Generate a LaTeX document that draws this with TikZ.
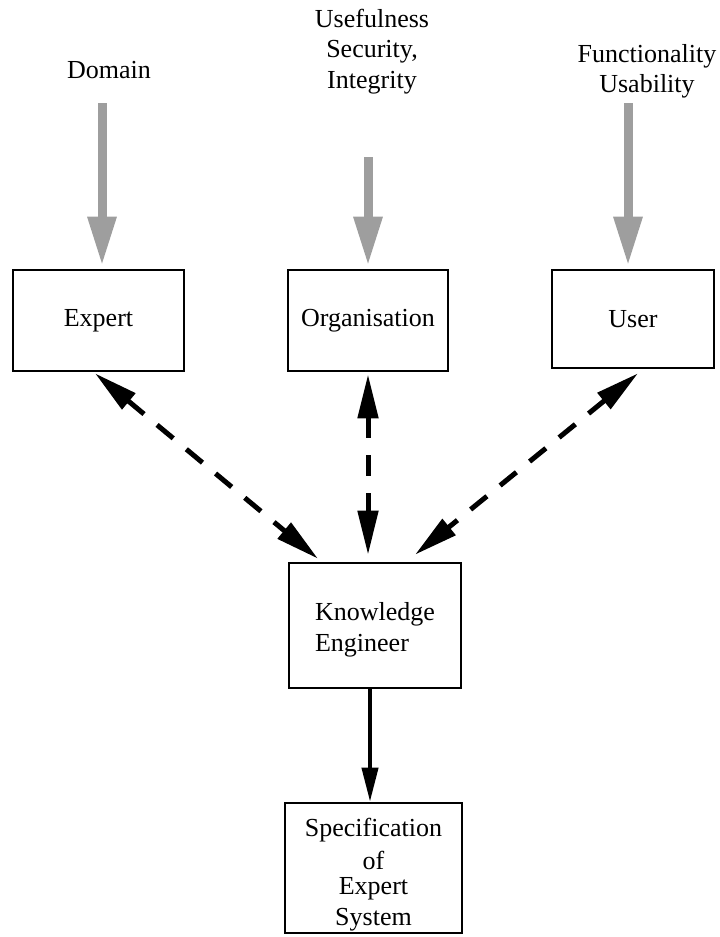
\documentclass[tikz,border=0pt]{standalone}
\usepackage{fontspec}
\setmainfont{Liberation Serif}
\usetikzlibrary{arrows.meta}

\definecolor{feedgray}{gray}{0.62}

\begin{document}
\begin{tikzpicture}[x=1pt,y=-1pt,
  txt/.style={font=\fontsize{26}{31}\selectfont, inner sep=0pt},
  lbl/.style={txt, font=\fontsize{26}{30.5}\selectfont},
  box/.style={txt, draw, line width=2.6pt},
  feed/.style={draw=feedgray, line width=9pt,
    -{Triangle[width=27pt,length=49pt,fill=feedgray]}},
  dashlink/.style={line width=5pt, dash pattern=on 21pt off 17pt,
    {Triangle[width=20pt,length=44pt]}-{Triangle[width=20pt,length=44pt]}},
  flow/.style={line width=4pt, -{Triangle[width=16pt,length=34pt]}}]

  \useasboundingbox (0,0) rectangle (720,937);

  % influences on each party
  \node[lbl, anchor=base] (dom) at (109,78) {Domain};
  \node[lbl, align=center] (orgq) at (372,51.5) {Usefulness\\Security,\\Integrity};
  \node[lbl, align=center] (usrq) at (647,71.5) {Functionality\\Usability};

  % parties
  \node[box, minimum width=171pt, minimum height=101pt] (exp) at (98.5,320.5) {Expert};
  \node[box, minimum width=160pt, minimum height=101pt] (org) at (368,320.5) {Organisation};
  \node[box, minimum width=162pt, minimum height=98pt] (usr) at (633,319) {User};

  \node[box, minimum width=172pt, minimum height=125pt, align=left] (ke) at (375,625.5)
    {\rule{0pt}{27pt}Knowledge\\Engineer};
  \node[box, minimum width=177pt, minimum height=130pt, align=center] (spec) at (373.5,868)
    {\rule{0pt}{31.8pt}Specification\\[2pt]of\\[-6pt]Expert\\System};

  % grey input arrows
  \coordinate (domtail) at (102,103);
  \coordinate (orgtail) at (368,157);
  \coordinate (usrtail) at (628,103);
  \draw[feed, shorten >=3pt] (domtail) -- (domtail |- exp.north);
  \draw[feed, shorten >=3pt] (orgtail) -- (orgtail |- org.north);
  \draw[feed, shorten >=3pt] (usrtail) -- (usrtail |- usr.north);

  % two-way communication with the knowledge engineer
  \draw[dashlink] ([xshift=-3.5pt,yshift=-1pt]exp.south) -- ([xshift=-57pt,yshift=3pt]ke.north);
  \draw[dashlink] ([yshift=-2pt]org.south) -- ([xshift=-7pt,yshift=7pt]ke.north);
  \draw[dashlink] ([xshift=5pt,yshift=-4pt]usr.south) -- ([xshift=40pt,yshift=7pt]ke.north);

  % result
  \draw[flow] ([xshift=-5pt]ke.south) -- ([xshift=-3.5pt]spec.north);
\end{tikzpicture}
\end{document}
